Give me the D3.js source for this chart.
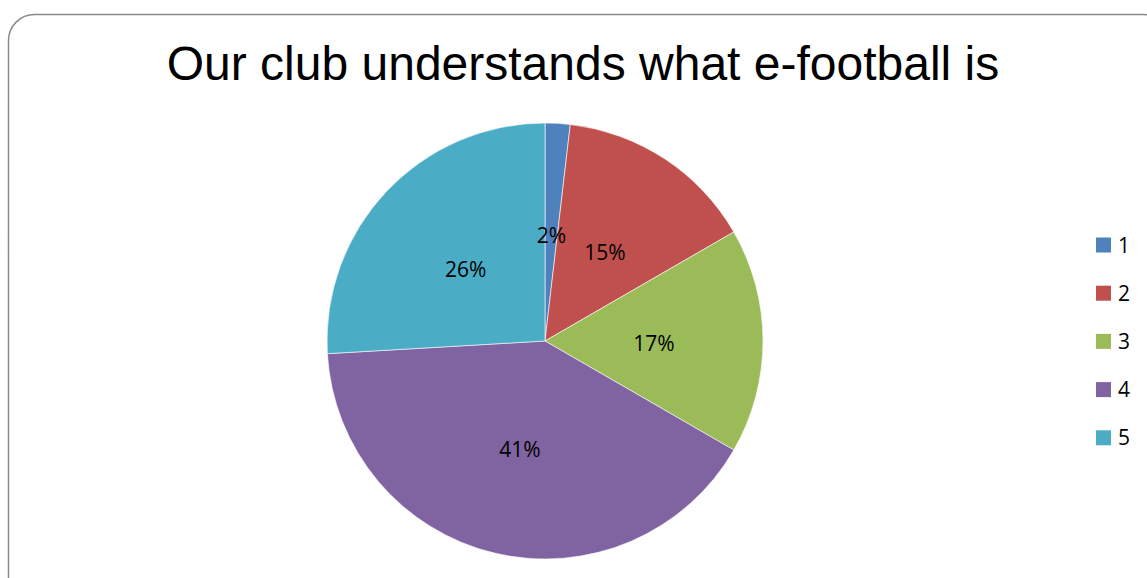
<!DOCTYPE html>
<html>
<head>
<meta charset="utf-8">
<script src="https://cdn.jsdelivr.net/npm/d3@7"></script>
<style>
  html, body { margin: 0; padding: 0; background: #fff; }
  svg { display: block; }
</style>
</head>
<body>
<svg id="chart" width="1147" height="578"></svg>
<script>
// Survey responses (counts per rating)
const categories = ["1", "2", "3", "4", "5"];
const counts = [1, 8, 9, 22, 14];
const colors = ["#4F81BD", "#C0504D", "#9BBB59", "#8064A2", "#4BACC6"];
const titleText = "Our club understands what e-football is";

const svg = d3.select("#chart");

// Frame with rounded corners
svg.append("rect")
  .attr("x", 8.5).attr("y", 14.5)
  .attr("width", 1160).attr("height", 600)
  .attr("rx", 26).attr("ry", 26)
  .attr("fill", "#fff")
  .attr("stroke", "#8a8a8a")
  .attr("stroke-width", 1.5);

// Title
svg.append("text")
  .attr("x", 583).attr("y", 80)
  .attr("text-anchor", "middle")
  .attr("font-family", "Liberation Sans, Arial, sans-serif")
  .attr("font-size", 48)
  .attr("fill", "#000")
  .text(titleText);

const data = categories.map((c, i) => ({ cat: c, value: counts[i], color: colors[i] }));
const total = d3.sum(counts);

const cx = 545, cy = 341, R = 218;
const pie = d3.pie().value(d => d.value).sort(null);
const arc = d3.arc().innerRadius(0).outerRadius(R);
const labelArc = d3.arc().innerRadius(0).outerRadius(R);

const g = svg.append("g").attr("transform", `translate(${cx},${cy})`);
const arcs = pie(data);

g.selectAll("path.slice")
  .data(arcs)
  .enter().append("path")
  .attr("class", "slice")
  .attr("d", arc)
  .attr("fill", d => d.data.color)
  .attr("stroke", "#fff")
  .attr("stroke-width", 0.6);

const fmt = v => Math.round(v / total * 100) + "%";

g.selectAll("text.pct")
  .data(arcs)
  .enter().append("text")
  .attr("class", "pct")
  .attr("transform", d => {
    const [x, y] = labelArc.centroid(d);
    return `translate(${x},${y + 3})`;
  })
  .attr("text-anchor", "middle")
  .attr("dy", "0.35em")
  .attr("font-family", "Open Sans, Noto Sans, sans-serif")
  .attr("font-size", 21)
  .attr("fill", "#000")
  .text(d => fmt(d.data.value));

// Legend
const legend = svg.append("g").attr("transform", "translate(1096,245)");
const item = legend.selectAll("g.item")
  .data(data)
  .enter().append("g")
  .attr("class", "item")
  .attr("transform", (d, i) => `translate(0,${i * 48.2})`);

item.append("rect")
  .attr("x", 0).attr("y", -7.5)
  .attr("width", 15).attr("height", 15)
  .attr("fill", d => d.color);

item.append("text")
  .attr("x", 22).attr("y", 0)
  .attr("dy", "0.36em")
  .attr("font-family", "Open Sans, Noto Sans, sans-serif")
  .attr("font-size", 21)
  .attr("fill", "#000")
  .text(d => d.cat);
</script>
</body>
</html>
